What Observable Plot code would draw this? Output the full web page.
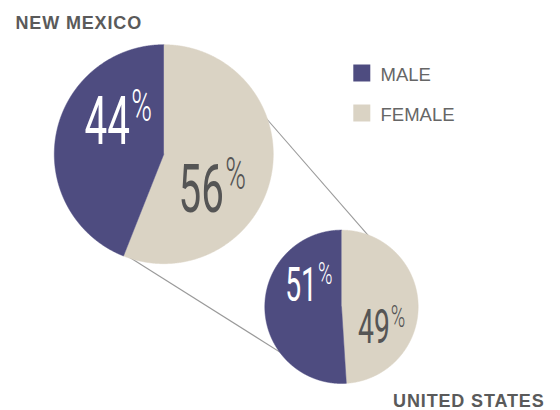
<!DOCTYPE html>
<html><head><meta charset="utf-8">
<script src="https://cdn.jsdelivr.net/npm/d3@7"></script>
<script src="https://cdn.jsdelivr.net/npm/@observablehq/plot@0.6"></script>
<style>
html,body{margin:0;padding:0;background:#fff;}
#chart{width:560px;height:410px;}
g[font-weight="bold"] text{letter-spacing:0.85px;}
</style></head><body><div id="chart"></div>
<script>
// ---- data ----
const regions = ["NEW MEXICO", "UNITED STATES"];
const sexes = ["MALE", "FEMALE"];
const malePct = [44, 51];
const femalePct = [56, 49];
const colors = ["#4e4c80", "#dad3c4"];

// ---- layout ----
const W = 560, H = 410;
const pies = [{cx: 163.3, cy: 153.7, r: 109.5}, {cx: 341, cy: 306.3, r: 76.7}];
// label anchors relative to pie centre, in units of the pie radius (one entry per pie)
const labelOffset = {MALE: [[-0.31, -0.089], [-0.32, -0.082]], FEMALE: [[0.55, 0.53], [0.63, 0.475]]};
const labelColor = {MALE: "#ffffff", FEMALE: "#555555"};
const connectorAngles = [[69, 22], [201.6, 231]]; // degrees clockwise from top: [big pie, small pie]
const titlePos = [{x: 15, y: 28, anchor: "start"}, {x: 544, y: 406, anchor: "end"}];
const legendPos = {x: 361.3, y: 72.5, step: 40, textX: 380, textDy: 8};
const squeezeNum = 0.6, squeezePct = 0.64;
const pctFont = "Roboto, 'Liberation Sans', sans-serif";

// ---- slice polygons from values ----
const slicePts = [];
regions.forEach((reg, i) => {
  const p = pies[i];
  const vals = [{sex: "FEMALE", v: femalePct[i]}, {sex: "MALE", v: malePct[i]}];
  d3.pie().sort(null).value(d => d.v)(vals).forEach(a => {
    const key = reg + "|" + a.data.sex;
    slicePts.push({key, sex: a.data.sex, x: p.cx, y: p.cy});
    const n = Math.ceil((a.endAngle - a.startAngle) / (Math.PI / 720));
    for (let k = 0; k <= n; k++) {
      const t = a.startAngle + (a.endAngle - a.startAngle) * k / n;
      slicePts.push({key, sex: a.data.sex, x: p.cx + p.r * Math.sin(t), y: p.cy - p.r * Math.cos(t)});
    }
  });
});

// ---- connectors ----
const pt = (p, deg, f) => {
  const t = deg * Math.PI / 180;
  return [p.cx + f * p.r * Math.sin(t), p.cy - f * p.r * Math.cos(t)];
};
const links = connectorAngles.map(([a, b]) => {
  const [x1, y1] = pt(pies[0], a, 0.98);
  const [x2, y2] = pt(pies[1], b, 0.98);
  return {x1, y1, x2, y2};
});

// ---- labels ----
const labelMarks = [];
regions.forEach((reg, i) => {
  const p = pies[i];
  sexes.forEach(s => {
    const v = s === "MALE" ? malePct[i] : femalePct[i];
    const o = labelOffset[s][i];
    const d = [{value: v, x: p.cx + o[0] * p.r, y: p.cy + o[1] * p.r}];
    labelMarks.push(Plot.text(d, {
      x: "x", y: "y", text: dd => String(dd.value), textAnchor: "end", lineAnchor: "bottom",
      fontSize: 0.615 * p.r, fill: labelColor[s], fontFamily: pctFont, fontWeight: 400, stroke: "none"
    }));
    labelMarks.push(Plot.text(d, {
      x: dd => dd.x + 0.012 * p.r, y: dd => dd.y - 0.215 * p.r, text: () => "%", textAnchor: "start", lineAnchor: "bottom",
      fontSize: 0.40 * p.r, fill: labelColor[s], fontFamily: pctFont, fontWeight: 300, stroke: "none"
    }));
  });
});

const titleMarks = regions.map((reg, i) => Plot.text([reg], {
  x: () => titlePos[i].x, y: () => titlePos[i].y, text: d => d,
  textAnchor: titlePos[i].anchor, lineAnchor: "bottom", fontSize: 18, fontWeight: "bold",
  fontFamily: "'Liberation Sans', Arial, sans-serif", fill: "#5a5a5a"
}));

const chart = Plot.plot({
  width: W, height: H, margin: 0,
  x: {domain: [0, W], range: [0, W], axis: null},
  y: {domain: [0, H], range: [0, H], axis: null},
  color: {domain: sexes, range: colors},
  style: {background: "#ffffff", overflow: "visible"},
  marks: [
    Plot.link(links, {x1: "x1", y1: "y1", x2: "x2", y2: "y2", stroke: "#9a9a9a", strokeWidth: 1.1}),
    Plot.line(slicePts, {x: "x", y: "y", z: "key", fill: "sex", stroke: "sex", strokeWidth: 0.5, curve: "linear"}),
    ...labelMarks,
    ...titleMarks,
    Plot.dot(sexes, {
      x: () => legendPos.x, y: (d, i) => legendPos.y + i * legendPos.step,
      symbol: "square", r: 9.59, fill: d => d, stroke: null
    }),
    Plot.text(sexes, {
      x: () => legendPos.textX, y: (d, i) => legendPos.y + i * legendPos.step + legendPos.textDy,
      text: d => d, textAnchor: "start", lineAnchor: "bottom", fontSize: 18.5,
      fontFamily: "'Liberation Sans', Arial, sans-serif", fill: "#666666"
    })
  ]
});
document.getElementById("chart").appendChild(chart);

// condense percentage labels horizontally around their anchors
d3.select(chart).selectAll("g").each(function () {
  const ff = this.getAttribute("font-family") || "";
  if (!ff.startsWith("Roboto")) return;
  d3.select(this).selectAll("text").each(function () {
    const k = this.textContent.includes("%") ? squeezePct : squeezeNum;
    const t = this.getAttribute("transform");
    if (t) this.setAttribute("transform", t + ` scale(${k},1)`);
    else {
      const x = +this.getAttribute("x") || 0;
      this.removeAttribute("x");
      this.setAttribute("transform", `translate(${x},0) scale(${k},1)`);
    }
  });
});
</script></body></html>
